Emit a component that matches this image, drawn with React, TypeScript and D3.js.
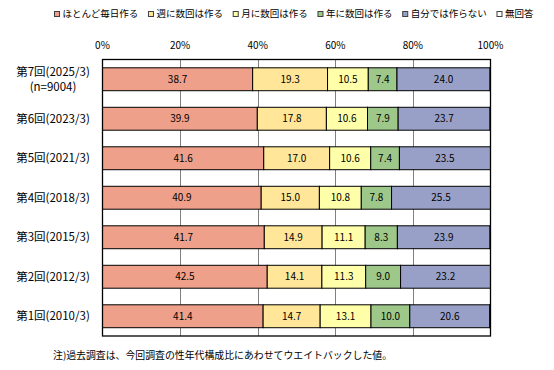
import { useEffect, useRef } from "react";
import * as d3 from "d3";

// survey rounds, top to bottom
const rounds = [
  ["第7回(2025/3)", "(n=9004)"],
  ["第6回(2023/3)"],
  ["第5回(2021/3)"],
  ["第4回(2018/3)"],
  ["第3回(2015/3)"],
  ["第2回(2012/3)"],
  ["第1回(2010/3)"],
];

const seriesNames = ["ほとんど毎日作る", "週に数回は作る", "月に数回は作る", "年に数回は作る", "自分では作らない", "無回答"];

const everyDay = [38.7, 39.9, 41.6, 40.9, 41.7, 42.5, 41.4];
const weekly = [19.3, 17.8, 17.0, 15.0, 14.9, 14.1, 14.7];
const monthly = [10.5, 10.6, 10.6, 10.8, 11.1, 11.3, 13.1];
const yearly = [7.4, 7.9, 7.4, 7.8, 8.3, 9.0, 10.0];
const never = [24.0, 23.7, 23.5, 25.5, 23.9, 23.2, 20.6];
const noAnswer = [0.1, 0.1, 0.0, 0.0, 0.1, 0.0, 0.2];

const tickValues = [0, 20, 40, 60, 80, 100];
const colors = ["#EEA08A", "#FFE699", "#FFFFAA", "#9EC88A", "#99A0C8", "#FFFFFF"];
const FONT = "'Noto Sans CJK JP', sans-serif";

export default function App() {
  const ref = useRef<SVGSVGElement>(null);

  useEffect(() => {
    const svg = d3.select(ref.current);
    svg.selectAll("*").remove();

    const left = 102.5, right = 490.5, top = 59.5, bottom = 336;
    const series = [everyDay, weekly, monthly, yearly, never, noAnswer];

    const x = d3.scaleLinear().domain([0, 100]).range([left, right]);
    const y = d3
      .scaleBand<number>()
      .domain(d3.range(rounds.length))
      .range([top, bottom])
      .paddingInner(0.42)
      .paddingOuter(0.21);

    // legend
    const leg = svg.append("g").style("font-family", FONT).style("font-size", "9.5px");
    const items = seriesNames.map((name, i) => {
      const g = leg.append("g");
      g.append("rect")
        .attr("width", 5)
        .attr("height", 5)
        .attr("y", 11.5)
        .attr("fill", colors[i])
        .attr("stroke", "#404040")
        .attr("stroke-width", 1);
      const t = g.append("text").attr("x", 8).attr("y", 14).attr("dy", "0.35em").text(name);
      const w = (t.node() as SVGTextElement).getComputedTextLength() + 8;
      return { g, w };
    });
    const legStart = 54, legEnd = 533;
    const total = d3.sum(items, (d) => d.w);
    const gap = (legEnd - legStart - total) / (items.length - 1);
    let cx = legStart;
    items.forEach((it) => {
      it.g.attr("transform", `translate(${cx + 0.5},0)`);
      cx += it.w + gap;
    });

    // grid
    svg.append("g")
      .selectAll("line")
      .data(tickValues.slice(1, -1))
      .enter()
      .append("line")
      .attr("x1", (d) => Math.round(x(d)) + 0.5)
      .attr("x2", (d) => Math.round(x(d)) + 0.5)
      .attr("y1", top)
      .attr("y2", bottom)
      .attr("stroke", "#808080")
      .attr("stroke-width", 1);

    // tick labels
    svg.append("g")
      .selectAll("text")
      .data(tickValues)
      .enter()
      .append("text")
      .attr("x", (d) => x(d))
      .attr("y", 45)
      .attr("dy", "0.35em")
      .attr("text-anchor", "middle")
      .style("font-family", FONT)
      .style("font-size", "10px")
      .text((d) => d + "%");

    // bars
    rounds.forEach((_, r) => {
      const vals = series.map((s) => s[r]);
      const sum = d3.sum(vals);
      let acc = 0;
      vals.forEach((v, i) => {
        const p0 = (acc / sum) * 100;
        acc += v;
        const p1 = (acc / sum) * 100;
        if (v <= 0) return;
        svg.append("rect")
          .attr("x", x(p0))
          .attr("y", y(r)!)
          .attr("width", x(p1) - x(p0))
          .attr("height", y.bandwidth())
          .attr("fill", colors[i])
          .attr("stroke", "#000")
          .attr("stroke-width", 1);
        if (i < 5) {
          svg.append("text")
            .attr("x", (x(p0) + x(p1)) / 2)
            .attr("y", y(r)! + y.bandwidth() / 2)
            .attr("dy", "0.35em")
            .attr("text-anchor", "middle")
            .style("font-family", FONT)
            .style("font-size", "10px")
            .text(v.toFixed(1));
        }
      });
    });

    // plot border
    svg.append("rect")
      .attr("x", left)
      .attr("y", top)
      .attr("width", right - left)
      .attr("height", bottom - top)
      .attr("fill", "none")
      .attr("stroke", "#000")
      .attr("stroke-width", 1.3);

    // category labels
    rounds.forEach((lines, r) => {
      const cy = y(r)! + y.bandwidth() / 2;
      const t = svg.append("text")
        .attr("text-anchor", "middle")
        .style("font-family", FONT)
        .style("font-size", "11.5px");
      lines.forEach((line, k) => {
        t.append("tspan")
          .attr("x", 53)
          .attr("y", cy + (k - (lines.length - 1) / 2) * 15)
          .attr("dy", "0.35em")
          .text(line);
      });
    });

    // footnote
    svg.append("text")
      .attr("x", 53)
      .attr("y", 356)
      .attr("dy", "0.35em")
      .style("font-family", FONT)
      .style("font-size", "9.9px")
      .text("注)過去調査は、今回調査の性年代構成比にあわせてウエイトバックした値。");
  }, []);

  return (
    <svg
      ref={ref}
      width={554}
      height={370}
      style={{ position: "absolute", left: 0, top: 0, background: "#fff" }}
    ></svg>
  );
}
